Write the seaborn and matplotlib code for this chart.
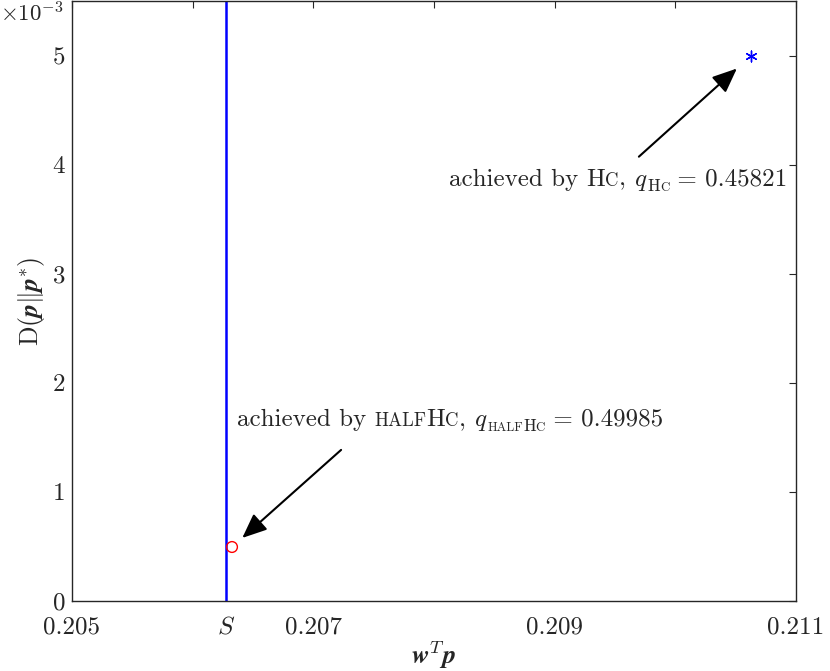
import matplotlib
matplotlib.use("Agg")
import matplotlib.pyplot as plt
import seaborn as sns
import pandas as pd
from matplotlib.transforms import IdentityTransform

# values
s_value = 0.20628
half_x = [0.206326]
half_y = [0.000495]
hc_x = [0.210626]
hc_y = [0.005]

xtick_pos = [0.205, 0.206, s_value, 0.207, 0.208, 0.209, 0.210, 0.211]
xtick_labels = ["0.205", "", "$S$", "0.207", "", "0.209", "", "0.211"]
ytick_pos = [0, 0.001, 0.002, 0.003, 0.004, 0.005]
ytick_labels = ["0", "1", "2", "3", "4", "5"]

arrow_half = ((0.207230, 0.001385), (0.206411, 0.000578))
arrow_hc = ((0.209698, 0.004073), (0.210510, 0.004881))
text_half_pos = (0.206367, 0.001606)
text_hc_pos = (0.208123, 0.003807)

sns.set_theme(style="white")
plt.rcParams["font.family"] = ["cmr10"]
plt.rcParams["mathtext.fontset"] = "cm"
plt.rcParams["axes.unicode_minus"] = False
plt.rcParams["axes.formatter.use_mathtext"] = True

ink = "#262626"

fig = plt.figure(figsize=(8.3, 6.71), dpi=100)
ax = fig.add_axes([72 / 830, 1 - 601 / 671, 724 / 830, 600 / 671])

ax.axvline(s_value, color="blue", lw=1.8, zorder=2)

sns.scatterplot(data=pd.DataFrame({"x": half_x, "y": half_y}), x="x", y="y", ax=ax,
                marker="o", s=60, facecolor="none", edgecolor="red", linewidth=1.0, zorder=3)
sns.scatterplot(data=pd.DataFrame({"x": hc_x, "y": hc_y}), x="x", y="y", ax=ax,
                marker=(6, 2, 0), s=60, color="blue", edgecolor="blue", linewidth=1.0, zorder=3)

ax.set_xlim(0.205, 0.211)
ax.set_ylim(0, 0.0055)
ax.set_xticks(xtick_pos)
ax.set_xticklabels(xtick_labels)
ax.set_yticks(ytick_pos)
ax.set_yticklabels(ytick_labels)
ax.tick_params(direction="in", top=True, right=True, length=5, width=0.8,
               labelsize=18, colors=ink)
ax.tick_params(axis="x", pad=11)
ax.tick_params(axis="y", pad=5)
for sp in ax.spines.values():
    sp.set_color(ink)
    sp.set_linewidth(1.0)

ax.set_xlabel(r"$\boldsymbol{w}^T\boldsymbol{p}$", fontsize=19, color=ink, labelpad=0)
ax.set_ylabel(r"$\mathrm{D}(\boldsymbol{p}\|\boldsymbol{p}^{*})$", fontsize=18.5, color=ink, labelpad=4)
ax.text(-0.012, 1.0, r"$\times 10^{-3}$", transform=ax.transAxes, ha="right", va="top",
        fontsize=16.5, color=ink)

for tail, head in [arrow_half, arrow_hc]:
    ax.annotate("", xy=head, xytext=tail,
                arrowprops=dict(arrowstyle="-|>,head_length=0.75,head_width=0.32",
                                mutation_scale=20, color="black", lw=1.5,
                                shrinkA=0, shrinkB=0))


def chain_text(x, y, pieces):
    # draw pieces one after another on a shared baseline (fake small caps)
    renderer = fig.canvas.get_renderer()
    px, py = ax.transData.transform((x, y))
    for txt, size, dy in pieces:
        t = fig.text(px, py + dy * fig.dpi / 72, txt, fontsize=size, color=ink,
                     ha="left", va="baseline", transform=IdentityTransform())
        px = t.get_window_extent(renderer).x1


big, sc, sub_big, sub_sc, drop = 18, 13.5, 12.2, 9.3, -3.8
chain_text(*text_half_pos, [
    ("achieved by", big, 0), (" ", big, 0),
    ("HALF", sc, 0), ("H", big, 0), ("C", sc, 0), (",", big, 0), (" ", big, 0),
    ("$q$", big, 0), ("HALF", sub_sc, drop), ("H", sub_big, drop), ("C", sub_sc, drop),
    (" = 0.49985", big, 0),
])
chain_text(*text_hc_pos, [
    ("achieved by", big, 0), (" ", big, 0),
    ("H", big, 0), ("C", sc, 0), (",", big, 0), (" ", big, 0),
    ("$q$", big, 0), ("H", sub_big, drop), ("C", sub_sc, drop),
    (" = 0.45821", big, 0),
])

plt.savefig("out.png", dpi=100)
plt.close()
